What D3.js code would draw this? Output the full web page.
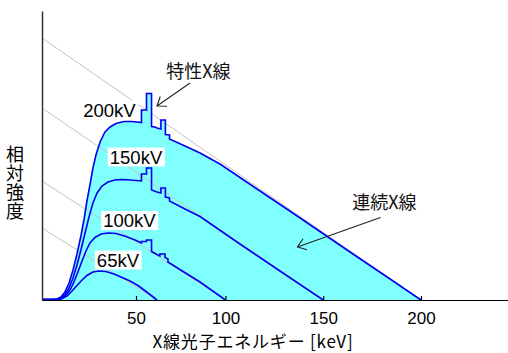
<!DOCTYPE html>
<html>
<head>
<meta charset="utf-8">
<script src="https://cdn.jsdelivr.net/npm/d3@7"></script>
<style>
  html, body { margin: 0; padding: 0; background: #fff; }
  svg { display: block; }
</style>
</head>
<body>
<svg id="chart" width="508" height="353"></svg>
<script>
// X-ray tube spectra: [photon energy (keV), relative intensity]
const voltages = [200, 150, 100, 65];

const spectrum200 = [
  [0, 0.5], [5.3, 0.5], [8.0, 1], [10.1, 3], [12.2, 8], [14.4, 17], [16.5, 30],
  [18.6, 46], [20.7, 64], [22.3, 80], [23.9, 99], [25.5, 115], [27.1, 132],
  [28.7, 145], [30.9, 158], [33.5, 168], [36.2, 173], [39.4, 176.5], [43.6, 178.5],
  [47.9, 178.5], [53.9, 177.5], [53.9, 190], [57.5, 190], [57.5, 206.5], [61.1, 206.5],
  [61.1, 173.5], [63.6, 173], [65, 172], [67.0, 171], [67.0, 180], [69.3, 180],
  [69.3, 165.5], [71.4, 165], [71.4, 161], [79.3, 154], [87.0, 147], [97.2, 136],
  [117.7, 109], [138.2, 82], [163.7, 48], [184.2, 21], [200, 0]
];

const spectrum150 = [
  [0, 0.5], [6.9, 0.5], [9.6, 1.5], [12.2, 5], [14.4, 12], [16.5, 22], [18.6, 35],
  [20.7, 50], [22.9, 67], [25.0, 83], [27.1, 97], [29.3, 107], [31.9, 114],
  [35.1, 118], [38.8, 120], [42.6, 120.5], [46.8, 120], [53.9, 119], [53.9, 126],
  [57.5, 126], [57.5, 132], [61.1, 132], [61.1, 110], [65, 108], [67.0, 107],
  [67.0, 112], [69.3, 112], [69.3, 103], [71.4, 102], [71.4, 99], [79.3, 91],
  [87.0, 83.5], [107.4, 56], [127.9, 29], [150, 0]
];

const spectrum100 = [
  [0, 0.5], [8.0, 0.5], [10.6, 1.5], [12.8, 5], [14.9, 10], [17.0, 18], [19.1, 28],
  [21.3, 39], [23.4, 49], [25.5, 57], [28.2, 62.5], [31.4, 66], [35.1, 67],
  [39.4, 66.5], [44.7, 63.5], [49.5, 60], [53.9, 57], [53.9, 58.5], [57.5, 58.5],
  [57.5, 60], [61.1, 60], [61.1, 48.5], [65, 45.5], [66.5, 44], [66.5, 46],
  [69.1, 46], [69.1, 42.5], [70.6, 41], [70.6, 38], [76.7, 30.5], [87.0, 18], [100, 0]
];

const spectrum65 = [
  [0, 0.5], [8.5, 0.5], [10.6, 1.5], [13.3, 4], [16.0, 9], [18.6, 14.5], [21.3, 20],
  [23.9, 24.5], [27.1, 28], [30.3, 29], [34.0, 28.5], [38.3, 26], [42.6, 22.5],
  [46.8, 19], [51.4, 14.5], [58.6, 7], [65, 0]
];

const spectra = [spectrum200, spectrum150, spectrum100, spectrum65];

// Kramers continuum: relative intensity at 0 keV for each tube voltage
const kramersIntercept = [262, 192, 119, 72];

const xTickValues = [50, 100, 150, 200];
const voltageLabels = ["200kV", "150kV", "100kV", "65kV"];

// ---- layout ----
const svg = d3.select("#chart");

const x = d3.scaleLinear()
  .domain([0, 50, 65, 244.5])
  .range([42, 136, 157, 508]);

const y = d3.scaleLinear()
  .domain([0, 289])
  .range([300, 11]);

const latin = "'Liberation Sans', Arial, sans-serif";
const cjk = "'Noto Sans CJK JP', sans-serif";

// filled region under the outermost spectrum
const area = d3.area()
  .x(d => x(d[0]))
  .y0(y(0))
  .y1(d => y(d[1]));

svg.append("path")
  .datum(spectrum200)
  .attr("d", area)
  .attr("fill", "#80ffff");

// Kramers straight lines
svg.append("g")
  .selectAll("line")
  .data(voltages)
  .join("line")
  .attr("x1", x(0))
  .attr("y1", (v, i) => y(kramersIntercept[i]))
  .attr("x2", v => x(v))
  .attr("y2", y(0))
  .attr("stroke", "#c4c4c4")
  .attr("stroke-width", 1);

// spectrum outlines
const line = d3.line()
  .x(d => x(d[0]))
  .y(d => y(d[1]));

svg.append("g")
  .selectAll("path")
  .data(spectra)
  .join("path")
  .attr("d", line)
  .attr("fill", "none")
  .attr("stroke", "#0000f0")
  .attr("stroke-width", 1.6)
  .attr("stroke-linejoin", "miter");

// axes
const xAxis = d3.axisBottom(x)
  .tickValues(xTickValues)
  .tickSizeInner(-4)
  .tickSizeOuter(0)
  .tickPadding(12)
  .tickFormat(d3.format("d"));

const gx = svg.append("g")
  .attr("transform", `translate(0,${y(0)})`)
  .call(xAxis);
gx.select(".domain").attr("stroke", "#000").attr("stroke-width", 1.2);
gx.selectAll(".tick line").attr("stroke", "#000").attr("stroke-width", 1.2);
gx.selectAll(".tick text")
  .attr("font-family", latin)
  .attr("font-size", 17)
  .attr("fill", "#000");

const yAxis = d3.axisLeft(y).tickValues([]).tickSizeOuter(0);
const gy = svg.append("g")
  .attr("transform", `translate(${x(0)},0)`)
  .call(yAxis);
gy.select(".domain").attr("stroke", "#333").attr("stroke-width", 1.5);

// voltage labels on white boxes
const labelAnchor = [[35.9, 190], [50, 143], [46.5, 79.5], [40.4, 40]];
const lg = svg.append("g");
voltageLabels.forEach((t, i) => {
  const g = lg.append("g");
  const rect = g.append("rect").attr("fill", "#fff");
  const txt = g.append("text")
    .attr("x", x(labelAnchor[i][0]))
    .attr("y", y(labelAnchor[i][1]))
    .attr("text-anchor", "middle")
    .attr("dominant-baseline", "central")
    .attr("font-family", latin)
    .attr("font-size", 18.5)
    .attr("fill", "#000")
    .text(t);
  const b = txt.node().getBBox();
  rect.attr("x", b.x - 2).attr("y", b.y + 1)
    .attr("width", b.width + 4).attr("height", b.height - 2);
});

// annotations with arrows
const notes = [
  { text: "特性X線", at: [86.2, 230], tail: [81.9, 217], tip: [65, 194] },
  { text: "連続X線", at: [181.3, 99], tail: [179.3, 82.5], tip: [136.8, 53] }
];

const ng = svg.append("g");
notes.forEach(n => {
  ng.append("text")
    .attr("x", x(n.at[0]))
    .attr("y", y(n.at[1]))
    .attr("text-anchor", "middle")
    .attr("dominant-baseline", "central")
    .attr("font-family", cjk)
    .attr("font-size", 18)
    .attr("fill", "#111")
    .text(n.text);

  const tx = x(n.tip[0]), ty = y(n.tip[1]);
  const sx = x(n.tail[0]), sy = y(n.tail[1]);
  const ang = Math.atan2(sy - ty, sx - tx);
  const len = 10, spread = 36 * Math.PI / 180;
  const a1 = [tx + len * Math.cos(ang - spread), ty + len * Math.sin(ang - spread)];
  const a2 = [tx + len * Math.cos(ang + spread), ty + len * Math.sin(ang + spread)];
  ng.append("path")
    .attr("d", `M${sx},${sy}L${tx},${ty}M${a1[0]},${a1[1]}L${tx},${ty}L${a2[0]},${a2[1]}`)
    .attr("fill", "none")
    .attr("stroke", "#222")
    .attr("stroke-width", 1.1);
});

// axis titles
svg.append("text")
  .attr("x", 253)
  .attr("y", 348)
  .attr("text-anchor", "middle")
  .attr("font-family", cjk)
  .attr("font-size", 17)
  .attr("fill", "#000")
  .style("letter-spacing", "0.8px")
  .text("X線光子エネルギー [keV]");

// vertical y-axis title, one glyph per line
svg.append("text")
  .attr("x", 15)
  .attr("y", 145)
  .attr("font-family", cjk)
  .attr("font-size", 18)
  .attr("fill", "#000")
  .style("writing-mode", "vertical-rl")
  .style("letter-spacing", "1px")
  .text("相対強度");
</script>
</body>
</html>
